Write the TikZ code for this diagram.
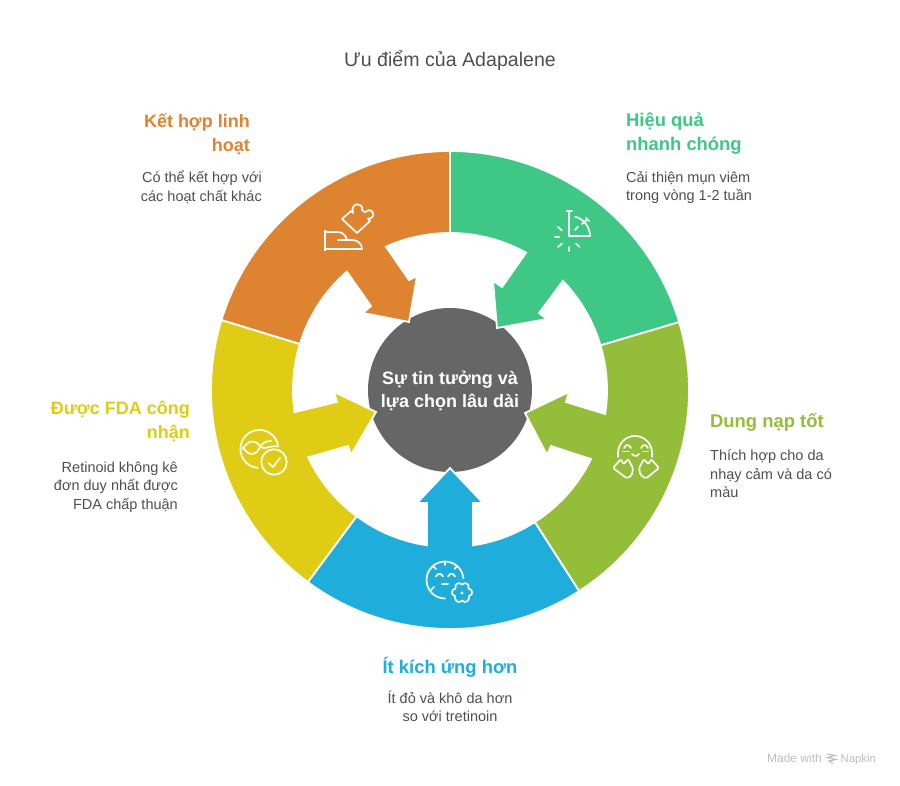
\documentclass[tikz,border=0pt]{standalone}
\usepackage{fontspec}
\setmainfont{Liberation Sans}
\definecolor{corange}{HTML}{DE8431}
\definecolor{cgreen}{HTML}{3EC785}
\definecolor{clime}{HTML}{94BD3A}
\definecolor{cblue}{HTML}{1FADDB}
\definecolor{cyellow}{HTML}{E0CC14}
\definecolor{cgray}{HTML}{666666}
\definecolor{ctext}{HTML}{4F4F4F}
\definecolor{cmark}{HTML}{BDBDBD}
\def\C{450,390}
\tikzset{
  x=1pt,y=-1pt,
  seg/.style={draw=white,line width=1.8pt,line join=miter,miter limit=10},
  ico/.style={draw=white,line width=1.7pt,line cap=round,line join=round},
  head/.style={inner sep=0pt,font=\fontsize{18.4}{24}\selectfont\bfseries},
  headsmall/.style={inner sep=0pt,font=\fontsize{18}{24}\selectfont\bfseries},
  desc/.style={inner sep=0pt,text=ctext,font=\fontsize{14.5}{18.2}\selectfont},
  mark text/.style={inner sep=0pt,text=cmark,font=\fontsize{12}{14}\selectfont},
}
\begin{document}
\begin{tikzpicture}
\useasboundingbox (0,0) rectangle (900,786);
\fill[white] (0,0) rectangle (900,786);
\node[inner sep=0pt,text=ctext,font=\fontsize{19.6}{24}\selectfont] (title) at (450,60.5) {Ưu điểm của Adapalene};
% centre
\fill[cgray] (450,390) circle[radius=82];
% orange
\path[seg,fill=corange] ([shift={(\C)}]-163:239) arc[start angle=-163,end angle=-90,radius=239]
 -- ([shift={(\C)}]-90:157) arc[start angle=-90,end angle=-114.1,radius=157]
 -- (409,280) -- (417,276) -- (409,322) -- (363,313) -- (371,306)
 -- ([shift={(\C)}]-131.1:157) arc[start angle=-131.1,end angle=-163,radius=157] -- cycle;
% green
\path[seg,fill=cgreen] ([shift={(\C)}]-90:239) arc[start angle=-90,end angle=-16.5,radius=239]
 -- ([shift={(\C)}]-16.5:157) arc[start angle=-16.5,end angle=-44,radius=157]
 -- (539,313) -- (547,319) -- (497,328) -- (493,281) -- (502,287)
 -- ([shift={(\C)}]-61:157) arc[start angle=-61,end angle=-90,radius=157] -- cycle;
% lime
\path[seg,fill=clime] ([shift={(\C)}]-16.5:239) arc[start angle=-16.5,end angle=57.3,radius=239]
 -- ([shift={(\C)}]57.3:157) arc[start angle=57.3,end angle=26.1,radius=157]
 -- (551,446) -- (547,455) -- (525,413) -- (569,392) -- (566,402)
 -- ([shift={(\C)}]8.8:157) arc[start angle=8.8,end angle=-16.5,radius=157] -- cycle;
% blue
\path[seg,fill=cblue] ([shift={(\C)}]57.3:239) arc[start angle=57.3,end angle=126.5,radius=239]
 -- ([shift={(\C)}]126.5:157) arc[start angle=126.5,end angle=98.4,radius=157]
 -- (427,503) -- (417,503) -- (450,468) -- (483,503) -- (473,503)
 -- ([shift={(\C)}]81.6:157) arc[start angle=81.6,end angle=57.3,radius=157] -- cycle;
% yellow
\path[seg,fill=cyellow] ([shift={(\C)}]126.5:239) arc[start angle=126.5,end angle=197,radius=239]
 -- ([shift={(\C)}]197:157) arc[start angle=197,end angle=171.9,radius=157]
 -- (337,402) -- (334,392) -- (376,412) -- (351,455) -- (348,446)
 -- ([shift={(\C)}]154.6:157) arc[start angle=154.6,end angle=126.5,radius=157] -- cycle;
% centre text
\node[inner sep=0pt,align=center,text=white,font=\fontsize{18}{23.5}\selectfont\bfseries] (core) at (450,391) {Sự tin tưởng và\\lựa chọn lâu dài};
% labels
\node[headsmall,text=corange,align=right,anchor=north east] (h1) at (250,113) {Kết hợp linh\\hoạt};
\node[desc,align=right,anchor=north east] (d1) at (262,171) {Có thể kết hợp với\\các hoạt chất khác};
\node[head,text=cgreen,align=left,anchor=north west] (h2) at (626,113) {Hiệu quả\\nhanh chóng};
\node[desc,align=left,anchor=north west] (d2) at (626,171) {Cải thiện mụn viêm\\trong vòng 1-2 tuần};
\node[head,text=clime,align=left,anchor=north west] (h3) at (710,413) {Dung nạp tốt};
\node[desc,align=left,anchor=north west] (d3) at (710,450) {Thích hợp cho da\\nhạy cảm và da có\\màu};
\node[head,text=cblue,align=center,anchor=north] (h4) at (450,656.5) {Ít kích ứng hơn};
\node[desc,align=center,anchor=north] (d4) at (450,691) {Ít đỏ và khô da hơn\\so với tretinoin};
\node[headsmall,text=cyellow,align=right,anchor=north east] (h5) at (190,401) {Được FDA công\\nhận};
\node[desc,align=right,anchor=north east] (d5) at (178,462) {Retinoid không kê\\đơn duy nhất được\\FDA chấp thuận};
\node[mark text,anchor=base east] (m1) at (822,762.5) {Made with};
\node[mark text,font=\fontsize{11.3}{14}\selectfont,anchor=base east] (m2) at (876,762.5) {Napkin};
\draw[cmark,line width=1.1pt] (827,754)--(835,755.5)--(827.5,757.5)--(836,759.5)--(829,761)--(833,763.5);
% icon: puzzle + hand
\draw[ico,line cap=butt] (325,230)--(325,251);
\draw[ico] (325,232)--(338,232) .. controls (343,232) and (346,236) .. (347,240);
\draw[ico] (338,240)--(352,240) .. controls (358,240) and (362,244) .. (362,249)--(325,249);
\draw[ico] (342,219) -- (351,211) -- (353,213) .. controls (351,207) and (355,203.5) .. (358,204.5)
 .. controls (361,205) and (363,207) .. (362,210) -- (365,212.5)
 .. controls (368,209) and (372,210) .. (373,213) .. controls (374,216) and (372,219) .. (368,218.5)
 -- (370,221) -- (357,233) -- cycle;
% icon: stopwatch
\draw[ico] (569,211)--(569,236)--(590,236);
\draw[ico] (567,211)--(572,211);
\draw[ico] (590,236) arc[start angle=0,end angle=-75,radius=20];
\draw[ico] (582,224)--(587,219.5);
\draw[ico] (586,218)--(589,221);
\draw[ico] (575,230)--(578,226.5);
\draw[ico] (555,237)--(559,237);
\draw[ico] (558,227)--(562,230.5);
\draw[ico] (558,247)--(562,243.5);
\draw[ico] (569,247)--(569,251);
\draw[ico] (576,243.5)--(579.5,247);
% icon: smiling face with hands
\draw[ico] (618,457)--(618,453) arc[start angle=180,end angle=360,radius=17]--(652,457);
\draw[ico] (624,448) .. controls (626,444) and (629,444) .. (631,448);
\draw[ico] (641,448) .. controls (643,444) and (646,444) .. (648,448);
\draw[ico] (623,451.5)--(629,451.5);
\draw[ico] (643,451.5)--(648,451.5);
\draw[ico] (632,454) .. controls (634,456.5) and (637,456.5) .. (639,454);
\draw[ico,rounded corners=1.5pt] (613,468)--(621,459)--(623.5,464.5)--(628,459)--(633,468)--(632,475)--(627,478.5)--cycle;
\draw[ico,rounded corners=1.5pt] (659,468)--(651,459)--(648.5,464.5)--(644,459)--(639,468)--(640.5,475)--(646,478.5)--cycle;
% icon: calm face with flower
\draw[ico] (445,598.5) arc[start angle=90,end angle=355,radius=18.5];
\draw[ico] (445,562)--(445,565);
\draw[ico] (433,566)--(436,569);
\draw[ico] (457,566)--(454.5,569);
\draw[ico] (431,590)--(434,587);
\draw[ico] (436,576.5) .. controls (437.5,573) and (441.5,573) .. (443,576.5);
\draw[ico] (448,576.5) .. controls (449.5,573) and (453.5,573) .. (455,576.5);
\draw[ico] (442,584)--(448,584);
\draw[ico] (462,584.5) .. controls (465,581.5) and (470,584) .. (468.5,588.5)
 .. controls (473,589.5) and (473.5,595) .. (469,596)
 .. controls (470,601) and (465,604) .. (462,600.5)
 .. controls (459,604) and (454,601) .. (455,596)
 .. controls (450.5,595) and (451,589.5) .. (455.5,588.5)
 .. controls (454,584) and (459,581.5) .. (462,584.5) -- cycle;
\fill[white] (462,593) circle[radius=1.6];
% icon: DNA with check
\draw[ico] (278,445) arc[start angle=-12,end angle=-265,radius=19];
\draw[ico] (243,449) .. controls (248,440) and (255,439) .. (260,446) .. controls (264,451) and (269,445) .. (278,446.5);
\draw[ico] (243,447) .. controls (248,456) and (255,456) .. (259,449) .. controls (262,443) and (265,441) .. (271,441);
\draw[ico] (274,462) circle[radius=12.7];
\draw[ico] (268.5,463)--(273,467)--(280,458);
\end{tikzpicture}
\end{document}
